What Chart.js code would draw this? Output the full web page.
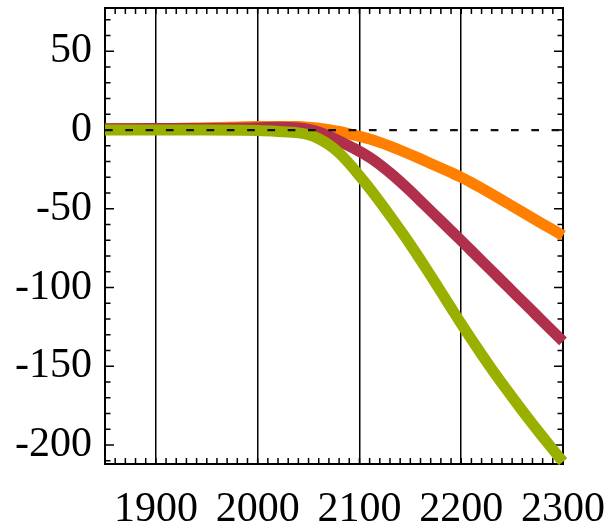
<!DOCTYPE html>
<html>
<head>
<meta charset="utf-8">
<script src="https://cdn.jsdelivr.net/npm/chart.js@4/dist/chart.umd.min.js"></script>
<style>
html,body{margin:0;padding:0;background:#fff;}
#c{display:block;}
</style>
</head>
<body>
<canvas id="c" width="615" height="528"></canvas>
<script>
const years  = [1850,1900,1950,2000,2020,2040,2050,2060,2070,2080,2090,2100,2110,2120,2130,2140,2150,2160,2170,2180,2190,2200,2210,2220,2230,2240,2250,2260,2270,2280,2290,2300];
const orangeSeries = [1,1,1.5,2.2,2.3,2.2,1.8,1.2,0.3,-0.9,-2.4,-4,-5.7,-7.8,-10.2,-12.8,-15.5,-18.3,-21.2,-24.1,-27,-30,-33.3,-36.9,-40.6,-44.4,-48.2,-52,-55.8,-59.6,-63.3,-67];
const redSeries    = [0.8,1,1,1.5,1.8,1.4,0.5,-1.2,-3.8,-6.9,-10.1,-13.5,-17.3,-21.9,-27.1,-32.7,-38.7,-45,-51.3,-57.6,-63.9,-70.2,-76.6,-83,-89.4,-95.8,-102.2,-108.6,-115,-121.4,-127.8,-134.2];
const greenSeries  = [0,0,0,-0.3,-0.9,-1.8,-3,-5.5,-9.3,-14.5,-21.3,-29,-37,-45.5,-54.3,-63.4,-72.7,-82.4,-92.4,-102.6,-112.8,-123,-132.8,-142.4,-151.7,-160.7,-169.5,-178.1,-186.5,-194.7,-202.7,-210.6];
const zeroLineX = [1850, 2300];
const zeroLineY = [0, 0];
const xTickLabels = [1900, 2000, 2100, 2200, 2300];
const yTickLabels = [50, 0, -50, -100, -150, -200];

const toPts = (xs, ys) => xs.map((x, i) => ({x: x, y: ys[i]}));

const framePlugin = {
  id: 'frame',
  beforeDatasetsDraw(chart) {
    const {ctx, chartArea: a, scales: {x, y}} = chart;
    ctx.save();
    ctx.strokeStyle = '#000';
    ctx.lineWidth = 1.5;
    ctx.beginPath();
    for (let v = 1850; v <= 2300; v += 10) {
      const px = x.getPixelForValue(v);
      ctx.moveTo(px, a.bottom); ctx.lineTo(px, a.bottom - 6);
      ctx.moveTo(px, a.top); ctx.lineTo(px, a.top + 6);
    }
    for (let v = -210; v <= 70; v += 10) {
      const py = y.getPixelForValue(v);
      const len = (v % 50 === 0) ? 9 : 5.5;
      ctx.moveTo(a.left, py); ctx.lineTo(a.left + len, py);
      ctx.moveTo(a.right, py); ctx.lineTo(a.right - len, py);
    }
    ctx.stroke();
    ctx.lineWidth = 2;
    ctx.strokeRect(a.left, a.top, a.right - a.left, a.bottom - a.top);
    ctx.restore();
  }
};

const lineDs = (data, color) => ({
  data: data,
  borderColor: color,
  backgroundColor: color,
  borderWidth: 11,
  pointRadius: 0,
  fill: false,
  cubicInterpolationMode: 'monotone',
  clip: false,
  borderCapStyle: 'butt',
  borderJoinStyle: 'round'
});

new Chart(document.getElementById('c'), {
  type: 'line',
  data: {
    datasets: [
      {
        data: toPts(zeroLineX, zeroLineY),
        borderColor: '#111',
        borderWidth: 2.2,
        borderDash: [7.7, 12.6],
        pointRadius: 0,
        fill: false
      },
      lineDs(toPts(years, greenSeries), '#99b000'),
      lineDs(toPts(years, redSeries), '#b0304b'),
      lineDs(toPts(years, orangeSeries), '#ff8000')
    ]
  },
  options: {
    responsive: false,
    animation: false,
    events: [],
    layout: {padding: {top: 8, right: 52, left: 0, bottom: 0}},
    plugins: {legend: {display: false}, tooltip: {enabled: false}},
    scales: {
      x: {
        type: 'linear',
        min: 1850, max: 2300,
        afterBuildTicks: s => { s.ticks = xTickLabels.map(v => ({value: v})); },
        afterFit: s => { s.height = 64; s.paddingLeft = 0; s.paddingRight = 0; },
        grid: {display: true, drawTicks: false, color: '#000', lineWidth: 1.5},
        border: {display: false},
        ticks: {
          autoSkip: false, maxRotation: 0, padding: 21, color: '#000',
          font: {family: '"Liberation Serif", "Times New Roman", serif', size: 42},
          callback: v => String(v)
        }
      },
      y: {
        type: 'linear',
        min: -212, max: 77.5,
        afterBuildTicks: s => { s.ticks = yTickLabels.map(v => ({value: v})); },
        afterFit: s => { s.width = 105; s.paddingTop = 0; s.paddingBottom = 0; },
        grid: {display: false, drawTicks: false},
        border: {display: false},
        ticks: {
          autoSkip: false, padding: 13, color: '#000',
          font: {family: '"Liberation Serif", "Times New Roman", serif', size: 42},
          callback: v => String(v)
        }
      }
    }
  },
  plugins: [framePlugin]
});
</script>
</body>
</html>
